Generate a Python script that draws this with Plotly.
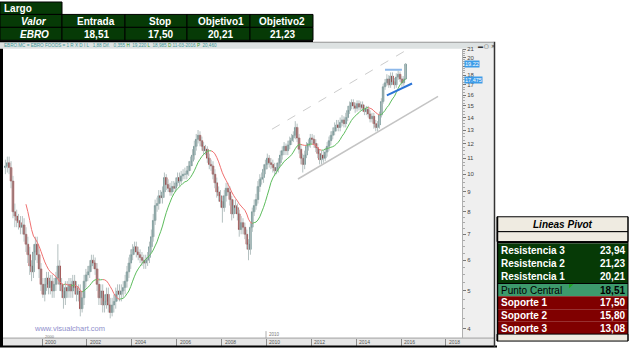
import numpy as np
import pandas as pd
import plotly.graph_objects as go

# ---------------- data (monthly, May 1998 - Mar 2016) ----------------
first_open = 10.4
monthly_close = [
    10.5, 10.7, 10.4, 9.6, 8.0, 7.8, 7.6, 7.5,                          # 1998 May-Dec
    7.3, 7.4, 7.0, 6.6, 6.2, 5.8, 5.6, 6.3, 6.6, 6.2, 5.7, 5.2,         # 1999
    4.9, 5.2, 5.4, 5.1, 5.3, 5.0, 5.2, 5.4, 5.8, 5.2, 5.0, 4.8,         # 2000
    5.1, 5.0, 5.2, 5.0, 5.3, 5.1, 4.9, 5.0, 4.5, 4.8, 5.3, 5.5,         # 2001
    5.6, 5.8, 6.0, 5.9, 5.7, 5.2, 4.8, 5.0, 4.6, 4.7, 4.9, 4.6,         # 2002
    4.4, 4.6, 4.7, 4.9, 5.0, 4.9, 5.0, 5.1, 5.3, 5.6, 5.9, 6.2,         # 2003
    6.4, 6.5, 6.3, 6.2, 6.1, 6.0, 5.9, 6.0, 6.1, 6.5, 6.9, 7.6,         # 2004
    8.3, 8.4, 8.8, 8.7, 9.0, 9.8, 9.4, 9.2, 9.0, 9.3, 9.2, 9.5,         # 2005
    9.8, 9.6, 9.9, 10.0, 10.0, 10.2, 10.5, 10.8, 11.2, 11.8, 12.3, 12.6,  # 2006
    12.2, 11.8, 11.5, 11.6, 11.0, 10.6, 10.5, 10.0, 9.5, 9.0, 8.8, 8.5,   # 2007
    8.2, 8.8, 9.2, 9.0, 8.6, 7.9, 8.3, 8.2, 7.9, 7.2, 7.5, 7.3,         # 2008
    7.0, 6.6, 6.4, 7.3, 8.0, 8.3, 8.6, 9.3, 9.7, 9.8, 10.3, 10.6,       # 2009
    11.0, 10.7, 10.6, 10.4, 10.2, 10.4, 10.7, 11.2, 11.5, 11.8, 11.5, 11.9,  # 2010
    12.2, 12.4, 12.6, 13.2, 12.4, 11.6, 11.0, 10.6, 11.2, 11.8, 12.0, 12.4,  # 2011
    12.3, 12.0, 11.7, 11.3, 10.9, 11.2, 11.0, 11.4, 11.8, 12.2, 12.6, 12.9,  # 2012
    13.2, 13.4, 13.2, 13.6, 13.8, 13.5, 14.0, 14.6, 15.0, 15.3, 15.0, 14.8,  # 2013
    15.2, 14.9, 15.1, 14.8, 14.5, 14.7, 14.3, 13.9, 14.1, 13.5, 13.2, 13.4,  # 2014
    14.2, 15.4, 16.8, 17.2, 17.6, 17.0, 17.9, 17.3, 17.0, 17.8, 18.1, 17.6,  # 2015
    17.2, 17.6, 19.22,                                                  # 2016 Jan-Mar
]
monthly_high = [
    10.9, 11.1, 11.1, 10.8, 9.9, 8.4, 8.1, 7.9,
    7.8, 7.8, 7.7, 7.3, 6.9, 6.5, 6.0, 6.6, 6.9, 6.9, 6.4, 5.9,
    5.4, 5.4, 5.6, 5.6, 5.5, 5.5, 5.4, 5.6, 6.6, 6.0, 5.4, 5.2,
    5.3, 5.3, 5.4, 5.4, 5.5, 5.5, 5.3, 5.2, 5.2, 5.0, 5.5, 5.7,
    5.8, 6.0, 6.2, 6.2, 6.1, 5.9, 5.4, 5.2, 5.2, 4.9, 5.1, 5.1,
    4.8, 4.8, 4.9, 5.1, 5.2, 5.2, 5.2, 5.3, 5.5, 5.8, 6.1, 6.4,
    6.6, 6.7, 6.7, 6.5, 6.4, 6.3, 6.2, 6.2, 6.3, 6.7, 7.2, 7.9,
    8.6, 8.7, 9.1, 9.1, 9.3, 10.1, 10.0, 9.7, 9.5, 9.6, 9.6, 9.8,
    10.1, 10.1, 10.2, 10.3, 10.4, 10.5, 10.8, 11.1, 11.6, 12.2, 12.7, 13.0,
    12.9, 12.5, 12.1, 11.9, 11.8, 11.3, 10.9, 10.8, 10.3, 9.8, 9.3, 9.1,
    8.8, 9.1, 9.5, 9.5, 9.3, 8.8, 8.6, 8.6, 8.4, 8.1, 7.8, 7.7,
    7.5, 7.2, 6.8, 7.5, 8.2, 8.6, 8.9, 9.6, 10.0, 10.1, 10.6, 10.9,
    11.3, 11.2, 11.0, 10.9, 10.7, 10.7, 11.0, 11.5, 11.8, 12.1, 12.0, 12.2,
    12.5, 12.7, 12.9, 13.7, 13.5, 12.7, 11.9, 11.3, 11.5, 12.1, 12.3, 12.7,
    12.7, 12.6, 12.3, 12.0, 11.6, 11.5, 11.5, 11.7, 12.1, 12.5, 12.9, 13.2,
    13.6, 13.8, 13.8, 14.0, 14.2, 14.1, 14.4, 15.0, 15.4, 15.6, 15.6, 15.3,
    15.5, 15.5, 15.4, 15.4, 15.1, 15.0, 15.0, 14.6, 14.4, 14.4, 13.8, 13.7,
    14.5, 15.7, 17.1, 17.6, 18.1, 18.0, 18.3, 18.3, 17.7, 18.2, 18.5, 18.4,
    17.9, 17.9, 19.35,
]
monthly_low = [
    10.0, 10.1, 10.0, 9.2, 7.7, 7.3, 7.3, 7.2,
    7.0, 7.0, 6.7, 6.3, 5.9, 5.5, 5.3, 5.4, 6.0, 5.9, 5.4, 5.0,
    4.8, 4.7, 5.0, 4.9, 4.9, 4.8, 4.8, 5.0, 5.2, 5.0, 4.8, 4.5,
    4.6, 4.8, 4.8, 4.8, 4.8, 4.9, 4.7, 4.7, 4.3, 4.4, 4.6, 5.1,
    5.3, 5.4, 5.6, 5.7, 5.5, 5.0, 4.6, 4.6, 4.4, 4.4, 4.5, 4.4,
    4.25, 4.3, 4.4, 4.5, 4.7, 4.7, 4.7, 4.8, 4.9, 5.1, 5.4, 5.7,
    6.0, 6.2, 6.1, 6.0, 5.9, 5.8, 5.7, 5.7, 5.8, 5.9, 6.3, 6.7,
    7.4, 8.0, 8.1, 8.4, 8.4, 8.7, 9.1, 9.0, 8.8, 8.8, 9.0, 9.0,
    9.3, 9.3, 9.4, 9.7, 9.7, 9.7, 9.9, 10.2, 10.5, 10.9, 11.5, 12.0,
    11.8, 11.5, 11.2, 11.2, 10.7, 10.3, 10.2, 9.7, 9.2, 8.7, 8.5, 8.2,
    7.5, 8.0, 8.5, 8.8, 8.3, 7.6, 7.7, 7.9, 7.6, 6.9, 7.0, 7.0,
    6.8, 6.4, 6.0, 6.2, 7.1, 7.8, 8.1, 8.4, 9.0, 9.4, 9.5, 10.0,
    10.3, 10.4, 10.3, 10.1, 9.9, 10.0, 10.1, 10.5, 10.9, 11.2, 11.2, 11.2,
    11.6, 11.9, 12.1, 12.3, 12.1, 11.3, 10.6, 10.1, 10.3, 11.0, 11.5, 11.7,
    11.9, 11.7, 11.4, 11.0, 10.6, 10.6, 10.7, 10.8, 11.1, 11.5, 11.9, 12.3,
    12.6, 12.9, 12.9, 12.9, 13.3, 13.2, 13.2, 13.7, 14.3, 14.7, 14.7, 14.4,
    14.5, 14.6, 14.6, 14.5, 14.2, 14.2, 14.0, 13.6, 13.6, 13.1, 12.9, 12.9,
    13.1, 14.0, 15.2, 16.5, 16.9, 16.7, 16.7, 17.0, 16.6, 16.7, 17.5, 17.3,
    16.8, 16.9, 17.5,
]

# trend lines (date, price)
channel_top_x = ["2010-04-01", "2016-04-22"]
channel_top_y = [13.06, 21.0]
channel_bot_x = ["2011-05-29", "2017-08-25"]
channel_bot_y = [9.72, 15.87]
resist_x = ["2015-04-15", "2016-01-15"]
resist_y = [18.6, 18.6]
support_x = ["2015-05-15", "2016-06-28"]
support_y = [15.96, 17.13]

last_price = 19.22
ma_label = 17.475

price_ticks = [4, 5, 6, 7, 8, 9, 10, 11, 12, 13, 14, 15, 16, 17, 18, 19, 20, 21]
hidden_tick_labels = [19]          # covered by the last-price box in the original
year_ticks = ["2000", "2002", "2004", "2006", "2008", "2010", "2012", "2014", "2016", "2018"]

top_header = ["Valor", "Entrada", "Stop", "Objetivo1", "Objetivo2"]
top_values = ["EBRO", "18,51", "17,50", "20,21", "21,23"]

pivot_names = ["Resistencia 3", "Resistencia 2", "Resistencia 1", "Punto Central",
               "Soporte 1", "Soporte 2", "Soporte 3"]
pivot_values = ["23,94", "21,23", "20,21", "18,51", "17,50", "15,80", "13,08"]

# ---------------- build ----------------
assert len(monthly_close) == len(monthly_high) == len(monthly_low)
months = pd.date_range("1998-05-01", periods=len(monthly_close), freq="MS") + pd.Timedelta(days=14)
opens = [first_open] + monthly_close[:-1]
body_top = [max(o, c) for o, c in zip(opens, monthly_close)]
body_bot = [min(o, c) for o, c in zip(opens, monthly_close)]

W, H = 630, 351
def px(x): return x / W
def py(y): return 1 - y / H

DKGREEN = "#063a06"
MIDGREEN = "#3d9a6c"
DKRED = "#800000"
BEIGE = "#efebe1"

fig = go.Figure()

# wicks (light grey)
wx, wy = [], []
for d, h, l in zip(months, monthly_high, monthly_low):
    wx += [d, d, None]
    wy += [l, h, None]
fig.add_trace(go.Scatter(x=wx, y=wy, mode="lines", line=dict(color="#b4c0c0", width=1), hoverinfo="skip"))

# bodies
fig.add_trace(go.Candlestick(
    x=months, open=opens, high=body_top, low=body_bot, close=monthly_close,
    increasing=dict(line=dict(color="#5a8282", width=0.6), fillcolor="#5a8282"),
    decreasing=dict(line=dict(color="#8b1a1a", width=0.6), fillcolor="#8b1a1a"),
    whiskerwidth=0, hoverinfo="skip", showlegend=False))

ma = pd.Series(monthly_close).rolling(12).mean().to_numpy()
ux, uy, dx, dy = [], [], [], []
for i in range(1, len(ma)):
    if np.isnan(ma[i - 1]):
        continue
    tx, ty = (ux, uy) if ma[i] >= ma[i - 1] else (dx, dy)
    tx += [months[i - 1], months[i], None]
    ty += [ma[i - 1], ma[i], None]
fig.add_trace(go.Scatter(x=ux, y=uy, mode="lines", line=dict(color="#5cbc5c", width=1), hoverinfo="skip"))
fig.add_trace(go.Scatter(x=dx, y=dy, mode="lines", line=dict(color="#f07070", width=1), hoverinfo="skip"))

fig.add_trace(go.Scatter(x=channel_top_x, y=channel_top_y, mode="lines",
                         line=dict(color="#cccccc", width=1, dash="dash"), hoverinfo="skip"))
fig.add_trace(go.Scatter(x=channel_bot_x, y=channel_bot_y, mode="lines",
                         line=dict(color="#c4c4c4", width=1.5), hoverinfo="skip"))
fig.add_trace(go.Scatter(x=resist_x, y=resist_y, mode="lines",
                         line=dict(color="#8db8ea", width=2), hoverinfo="skip"))
fig.add_trace(go.Scatter(x=support_x, y=support_y, mode="lines",
                         line=dict(color="#2b74d6", width=2), hoverinfo="skip"))

shapes = []
def rect(x0, y0, x1, y1, fill, lc=None, lw=0, layer="above"):
    shapes.append(dict(type="rect", xref="paper", yref="paper",
                       x0=px(x0), x1=px(x1), y0=py(y1), y1=py(y0),
                       fillcolor=fill, line=dict(color=lc or fill, width=lw), layer=layer))
def line(x0, y0, x1, y1, color, w=1, layer="above"):
    shapes.append(dict(type="line", xref="paper", yref="paper",
                       x0=px(x0), x1=px(x1), y0=py(y0), y1=py(y1),
                       line=dict(color=color, width=w), layer=layer))

# chart window chrome
rect(0, 40, 494, 47, "#dde2e2", layer="below")
rect(462, 47, 494, 338, "#efefef", layer="below")
rect(3, 338, 494, 346, "#e6e6e6", layer="below")
line(3, 338, 494, 338, "#a0a0a0", 1, layer="below")
rect(0, 47, 3, 347, "#000000")
rect(0, 345.5, 497, 347.5, "#000000")
line(494.5, 40, 494.5, 347, "#333333", 1.5)
line(313, 40.5, 494, 40.5, "#9a9a9a", 1)

# top table
rect(0, 0, 62, 12.5, DKGREEN, "#000000", 1)
cols = [0, 62, 125, 187, 250, 313]
for r, (y0, y1) in enumerate([(12.5, 25.5), (25.5, 38.5)]):
    for c in range(5):
        rect(cols[c], y0, cols[c + 1], y1, DKGREEN, "#000000", 1)
rect(0, 38.5, 313, 40.5, "#000000")

# pivot table
rect(497, 216, 628, 231, BEIGE, "#000000", 1)
rect(497, 231, 628, 241, BEIGE, "#000000", 1)
rect(497, 240.5, 628, 243, "#000000")
row_y = [(243, 256.5), (256.5, 269.5), (269.5, 282.5), (283.5, 296),
         (296, 309), (309, 321.5), (321.5, 334)]
row_fill = [DKGREEN, DKGREEN, DKGREEN, MIDGREEN, DKRED, DKRED, DKRED]
for (y0, y1), f in zip(row_y, row_fill):
    rect(497, y0, 628, y1, f)
rect(497, 282.5, 628, 283.5, "#000000")
rect(497, 334, 628, 341, BEIGE, "#000000", 1)
line(497.5, 216, 497.5, 341, "#000000", 1.5)
line(628, 216, 628, 341, "#000000", 1)
shapes.append(dict(type="path", xref="paper", yref="paper",
                   path=f"M {px(569)} {py(283.8)} L {px(573.5)} {py(283.8)} L {px(569)} {py(288)} Z",
                   fillcolor="#1fa51f", line=dict(width=0)))

ann = []
def text(x, y, s, size=10, color="#ffffff", xanchor="center", font="Liberation Sans"):
    ann.append(dict(x=px(x), y=py(y), xref="paper", yref="paper", text=s, showarrow=False,
                    xanchor=xanchor, yanchor="middle",
                    font=dict(size=size, color=color, family=font)))

text(2, 6.5, "<b>Largo</b>", 10, xanchor="left")
centers = [34, 96, 160, 221, 282]
for i, (h, v) in enumerate(zip(top_header, top_values)):
    hs = f"<b><i>{h}</i></b>" if i == 0 else f"<b>{h}</b>"
    vs = f"<b><i>{v}</i></b>" if i == 0 else f"<b>{v}</b>"
    text(centers[i], 19.2, hs, 10)
    text(centers[i], 32.2, vs, 10)

text(563, 223.5, "<b><i>Lineas Pivot</i></b>", 10, "#000000")
centers_y = [250, 263, 276, 289.7, 302.5, 315.5, 328]
for i, (nm, val) in enumerate(zip(pivot_names, pivot_values)):
    if nm == "Punto Central":
        text(499, centers_y[i], nm, 10, "#000000", xanchor="left")
        text(627, centers_y[i], f"<b>{val}</b>", 10, "#000000", xanchor="right")
    else:
        text(499, centers_y[i], f"<b>{nm}</b>", 10, xanchor="left")
        text(627, centers_y[i], f"<b>{val}</b>", 10, xanchor="right")

# chart header text
hdr = ('<span style="color:#3f9a9a">EBRO.MC = EBRO FOODS = 1 R X D I L   1,88 Dif.   0,355 </span>'
       '<span style="color:#2f9a2f">H</span><span style="color:#3f9a9a">  19,220 </span>'
       '<span style="color:#2f9a2f">L</span><span style="color:#3f9a9a">  18,985 </span>'
       '<span style="color:#2f9a2f">D</span><span style="color:#3f9a9a"> 11-03-2016 </span>'
       '<span style="color:#2f9a2f">P</span><span style="color:#3f9a9a">  20,460</span>')
text(2, 43.8, hdr, 4.6, xanchor="left")
text(486, 43.8, "▬ ▢ ✕", 5, "#333333")

# year labels on the time strip
for yl in year_ticks:
    ann.append(dict(x=f"{yl}-01-01", xref="x", y=py(342), yref="paper", text=yl, showarrow=False,
                    xanchor="left", yanchor="middle", xshift=1,
                    font=dict(size=5, color="#555555", family="Liberation Sans")))
text(43, 336.0, "2000", 4, "#777777", xanchor="left")
text(267, 334.5, "2010", 4.5, "#777777", xanchor="left")
line(266, 331, 266, 338, "#999999", 0.8)
text(32, 328.8, "www.visualchart.com", 7.5, "#8f8fcc", xanchor="left")

# price labels on axis
for val, s in [(last_price, "19.22"), (ma_label, "17.475")]:
    ann.append(dict(x=px(464), xref="paper", y=np.log10(val), yref="y", text=s, showarrow=False,
                    xanchor="left", yanchor="middle", bgcolor="#3d9ce8", borderpad=0,
                    font=dict(size=5.5, color="#ffffff", family="Liberation Sans")))

minor_vals = [v for v in np.arange(4, 21.01, 0.25) if v not in price_ticks]

fig.update_layout(
    width=W, height=H, margin=dict(l=0, r=0, t=0, b=0),
    paper_bgcolor="#ffffff", plot_bgcolor="#ffffff", showlegend=False,
    shapes=shapes, annotations=ann, boxgap=0.05, boxgroupgap=0,
    xaxis=dict(domain=[px(3), px(462)], type="date", range=["1998-04-06", "2018-09-19"],
               rangeslider=dict(visible=False), showgrid=False, zeroline=False,
               tickvals=[f"{y}-01-01" for y in year_ticks], ticks="outside", ticklen=7,
               tickcolor="#8a8a8a", showticklabels=False, showline=False, fixedrange=True),
    yaxis=dict(domain=[py(338), py(47)], type="log", range=[np.log10(3.78), np.log10(21.06)],
               side="right", tickvals=price_ticks,
               ticktext=["" if t in hidden_tick_labels else str(t) for t in price_ticks],
               ticks="outside", ticklen=3, tickcolor="#777777",
               tickfont=dict(size=6, color="#444444", family="Liberation Sans"),
               minor=dict(tickvals=minor_vals, ticks="outside", ticklen=1.5, tickcolor="#aaaaaa"),
               showgrid=False, showline=True, linecolor="#b0b0b0", zeroline=False, fixedrange=True),
)

fig.write_html("out.html")
